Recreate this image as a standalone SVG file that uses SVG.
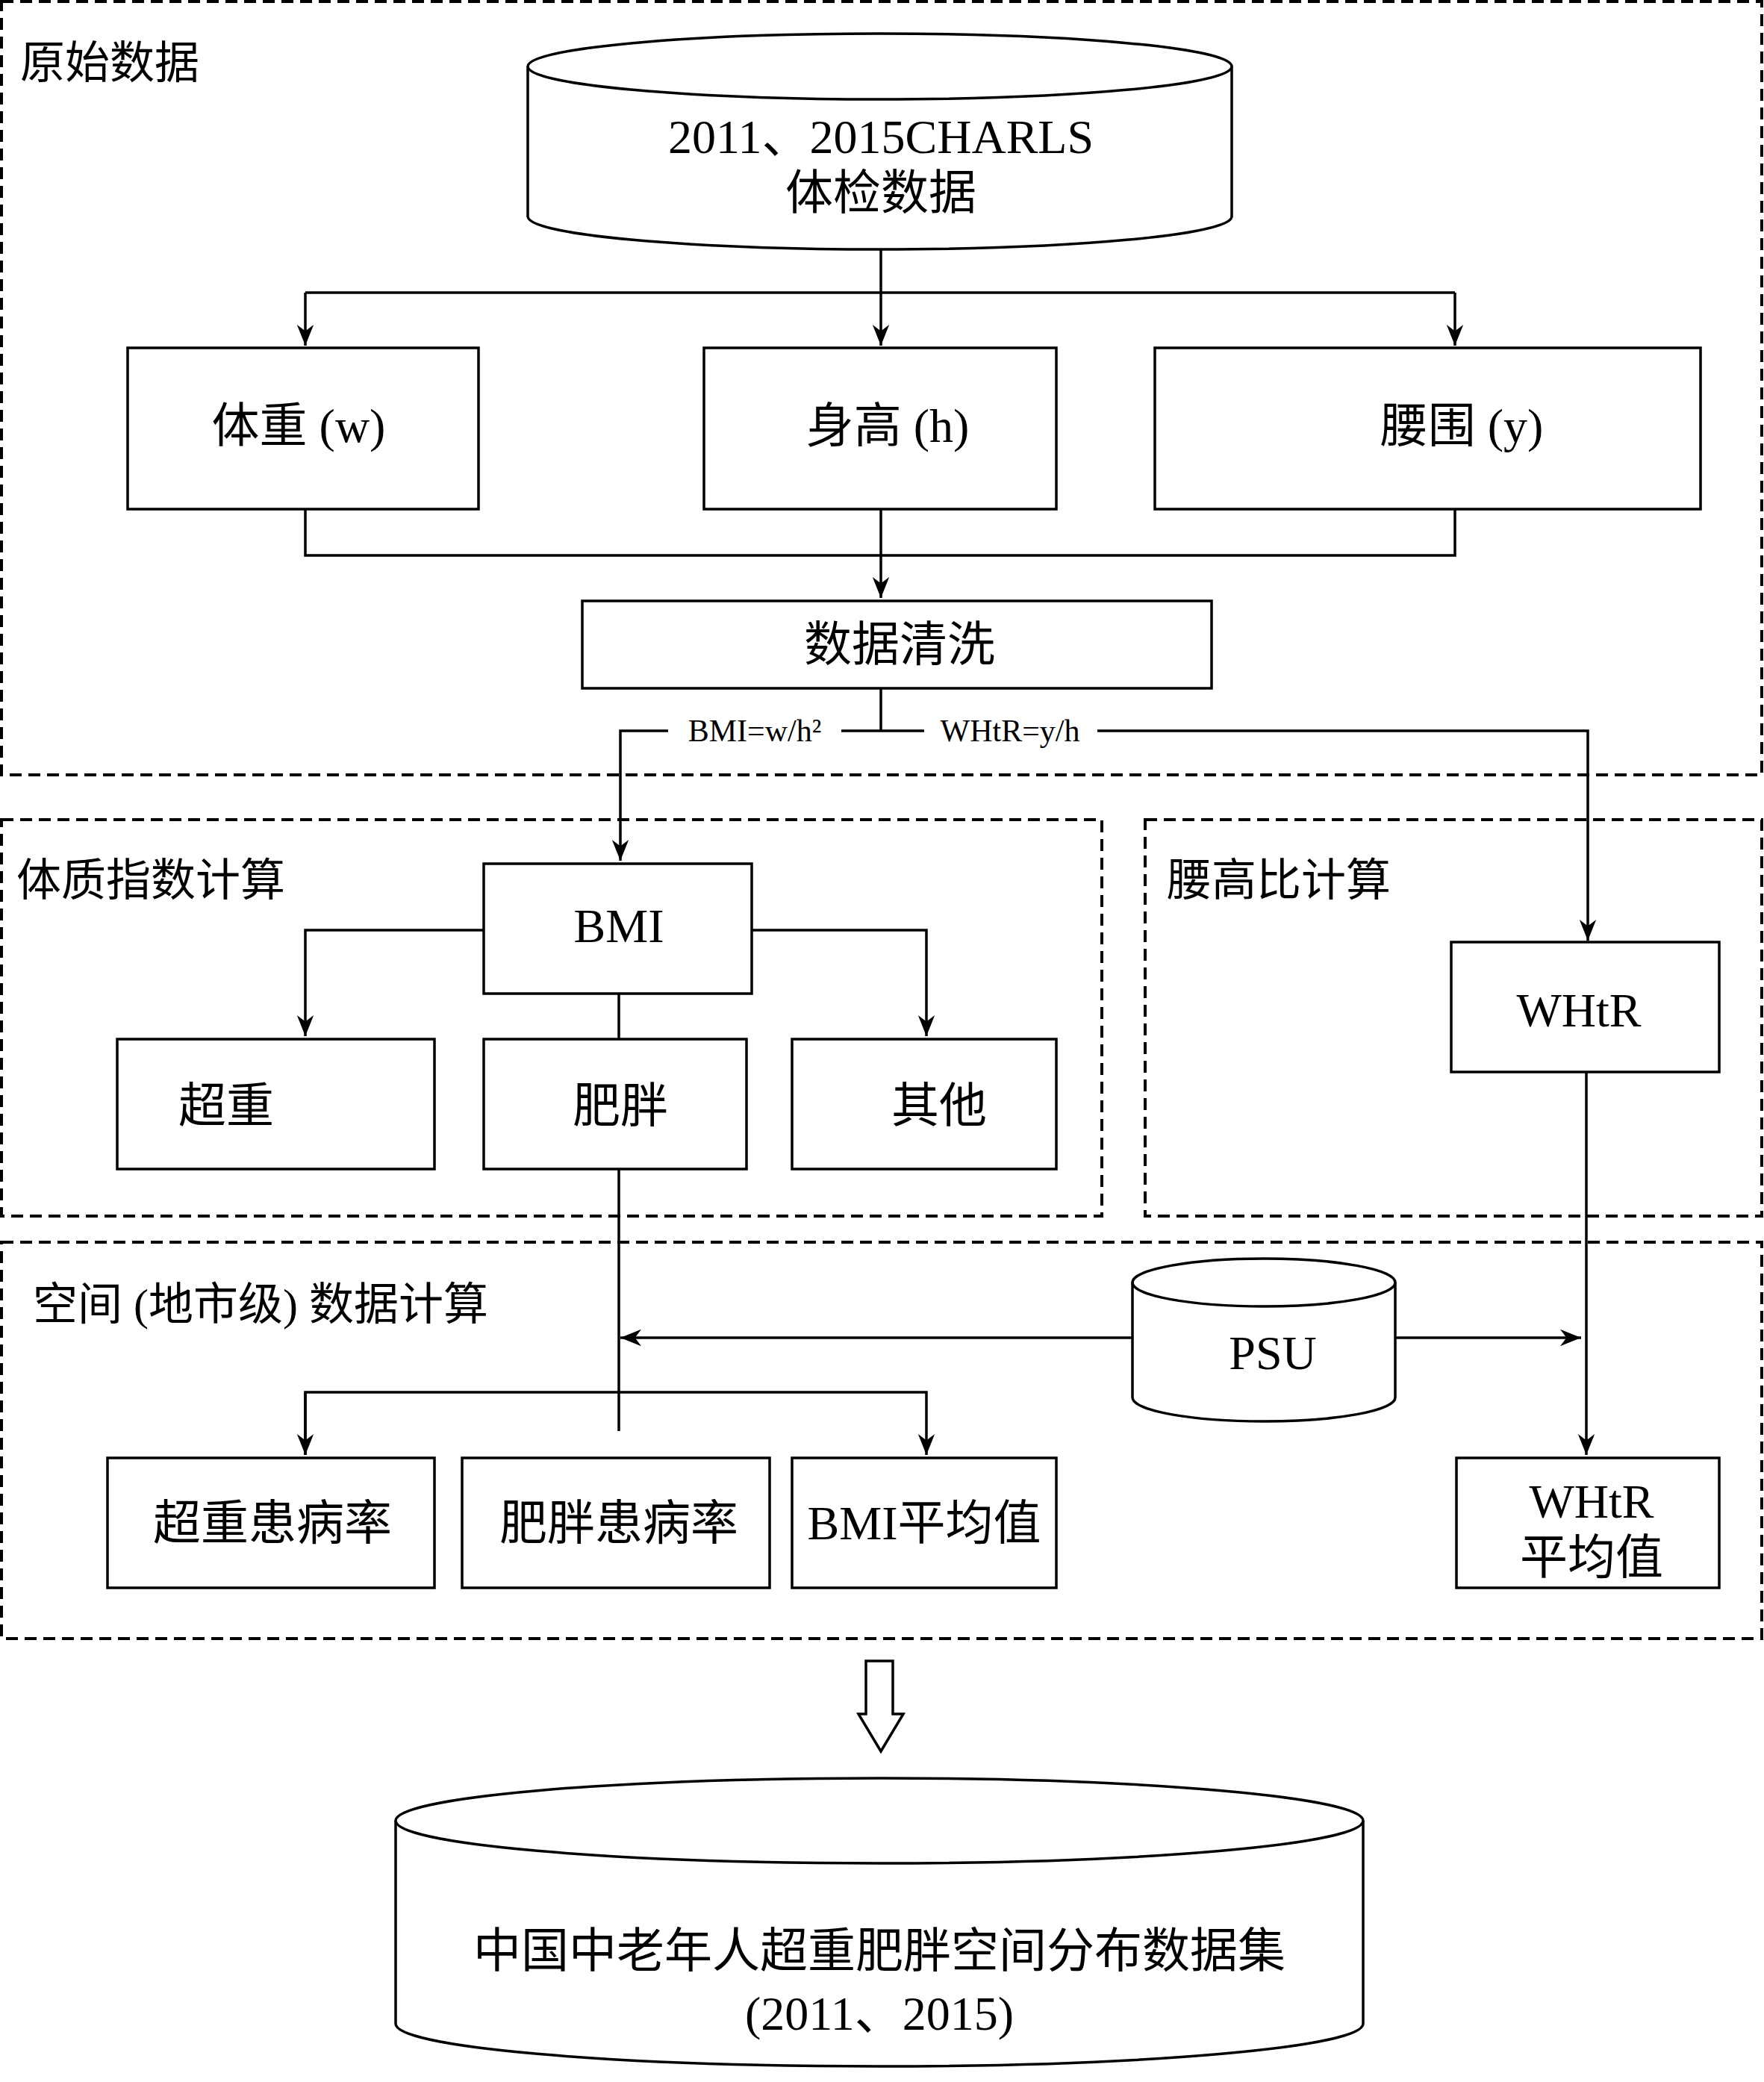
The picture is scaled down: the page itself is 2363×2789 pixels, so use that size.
<svg xmlns="http://www.w3.org/2000/svg" width="2363" height="2789" viewBox="0 0 2363 2789">
<defs>
<marker id="ar" viewBox="0 0 10 10" refX="10" refY="5" markerWidth="28" markerHeight="28" markerUnits="userSpaceOnUse" orient="auto"><path d="M0,1 L10,5 L0,9 L3,5 Z" fill="#000"/></marker>
<style>
.b{fill:#fff;stroke:#000;stroke-width:3.5}
.d{fill:none;stroke:#000;stroke-width:4;stroke-dasharray:16,9}
.l{fill:none;stroke:#000;stroke-width:3.5}
text{font-family:"Liberation Serif","Noto Sans CJK SC",serif;font-size:64px;text-anchor:middle;dominant-baseline:central}
.t{text-anchor:start;font-size:60px}
.s{font-size:42px}
</style>
</defs>
<rect width="2363" height="2789" fill="#fff"/>
<g id="groups">
<rect class="d" x="2" y="2" width="2358" height="1036"/>
<text class="t" x="27" y="85">原始数据</text>
<rect class="d" x="2" y="1098" width="1474" height="531"/>
<text class="t" x="22" y="1180">体质指数计算</text>
<rect class="d" x="1534" y="1098" width="826" height="531"/>
<text class="t" x="1563" y="1180">腰高比计算</text>
<rect class="d" x="2" y="1664" width="2358" height="531"/>
<text class="t" x="44" y="1748">空间 (地市级) 数据计算</text>
</g>
<g id="connectors">
<path class="l" d="M409,392H1949"/>
<path class="l" d="M1180,290V463" marker-end="url(#ar)"/>
<path class="l" d="M409,392V463" marker-end="url(#ar)"/>
<path class="l" d="M1949,392V463" marker-end="url(#ar)"/>
<path class="l" d="M409,682V744H1949V682"/>
<path class="l" d="M1180,682V801" marker-end="url(#ar)"/>
<path class="l" d="M1180,922V979"/>
<path class="l" d="M1180,979H831V1153" marker-end="url(#ar)"/>
<path class="l" d="M1180,979H2127V1260" marker-end="url(#ar)"/>
<path class="l" d="M648,1246H409V1388" marker-end="url(#ar)"/>
<path class="l" d="M1007,1246H1241V1388" marker-end="url(#ar)"/>
<path class="l" d="M829,1331V1392"/>
<path class="l" d="M829,1566V1917"/>
<path class="l" d="M1517,1792H831" marker-end="url(#ar)"/>
<path class="l" d="M1869,1792H2118" marker-end="url(#ar)"/>
<path class="l" d="M2125,1436V1949" marker-end="url(#ar)"/>
<path class="l" d="M409,1949V1865H1241V1949" marker-end="url(#ar)"/>
<path class="l" d="M409,1865V1949" marker-end="url(#ar)"/>
<rect x="895" y="955" width="232" height="48" fill="#fff"/>
<text class="s" x="1011" y="979">BMI=w/h²</text>
<rect x="1238" y="955" width="232" height="48" fill="#fff"/>
<text class="s" x="1353" y="979">WHtR=y/h</text>
<path class="l" d="M1160,2225V2296H1150L1180,2346L1210,2296H1196V2225Z"/>
</g>
<g id="src">
<path class="b" d="M707,89V290A471.5,44 0 0 0 1650,290V89"/>
<ellipse class="b" cx="1178.5" cy="89" rx="471.5" ry="44"/>
<text x="1180" y="183">2011、2015CHARLS</text>
<text x="1180" y="258">体检数据</text>
</g>
<g id="w"><rect class="b" x="171" y="466" width="470" height="216"/><text x="400" y="570">体重 (w)</text></g>
<g id="h"><rect class="b" x="943" y="466" width="472" height="216"/><text x="1189" y="570">身高 (h)</text></g>
<g id="y"><rect class="b" x="1547" y="466" width="731" height="216"/><text x="1958" y="570">腰围 (y)</text></g>
<g id="clean"><rect class="b" x="780" y="805" width="843" height="117"/><text x="1205" y="863">数据清洗</text></g>
<g id="bmi"><rect class="b" x="648" y="1157" width="359" height="174"/><text x="829" y="1240">BMI</text></g>
<g id="ow"><rect class="b" x="157" y="1392" width="425" height="174"/><text x="303" y="1481">超重</text></g>
<g id="ob"><rect class="b" x="648" y="1392" width="352" height="174"/><text x="831" y="1481">肥胖</text></g>
<g id="other"><rect class="b" x="1061" y="1392" width="354" height="174"/><text x="1258" y="1481">其他</text></g>
<g id="whtr"><rect class="b" x="1944" y="1262" width="359" height="174"/><text x="2115" y="1353">WHtR</text></g>
<g id="psu">
<path class="b" d="M1517,1718V1872A176,32 0 0 0 1869,1872V1718"/>
<ellipse class="b" cx="1693" cy="1718" rx="176" ry="32"/>
<text x="1705" y="1812">PSU</text>
</g>
<g id="r1"><rect class="b" x="144" y="1953" width="438" height="174"/><text x="365" y="2040">超重患病率</text></g>
<g id="r2"><rect class="b" x="619" y="1953" width="412" height="174"/><text x="829" y="2040">肥胖患病率</text></g>
<g id="r3"><rect class="b" x="1061" y="1953" width="354" height="174"/><text x="1238" y="2040">BMI平均值</text></g>
<g id="r4"><rect class="b" x="1951" y="1953" width="352" height="174"/><text x="2132" y="2011">WHtR</text><text x="2132" y="2086">平均值</text></g>
<g id="out">
<path class="b" d="M530,2439V2711A648,57 0 0 0 1826,2711V2439"/>
<ellipse class="b" cx="1178" cy="2439" rx="648" ry="57"/>
<text x="1178" y="2613">中国中老年人超重肥胖空间分布数据集</text>
<text x="1178" y="2697">(2011、2015)</text>
</g>
</svg>
